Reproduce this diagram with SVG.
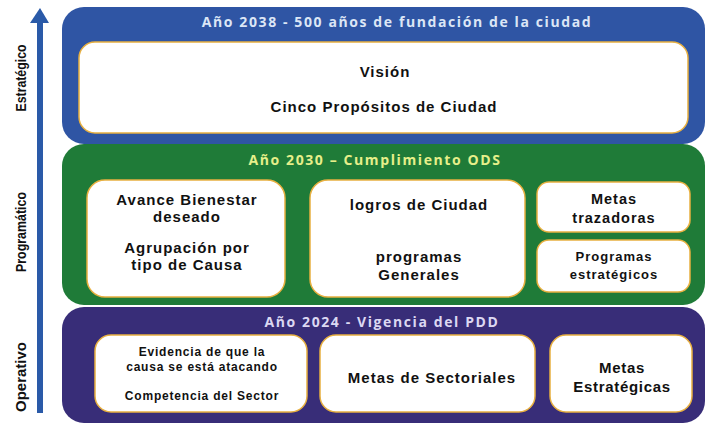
<svg xmlns="http://www.w3.org/2000/svg" width="708" height="425" viewBox="0 0 708 425">
<style>
.t{font-family:"Liberation Sans",Arial,sans-serif;font-weight:bold;fill:#111;text-anchor:middle;font-size:15px;letter-spacing:1px}
.h{font-family:"Open Sans","Liberation Sans",sans-serif;font-weight:bold;font-size:14px;letter-spacing:1.6px;text-anchor:middle}
.side{font-family:"Liberation Sans",sans-serif;font-weight:bold;font-size:15px;fill:#111;text-anchor:middle}
.box{fill:#fff;stroke:#e8b040;stroke-width:1.5}
</style>
<rect width="708" height="425" fill="#fff"/>
<g id="axis">
<rect x="37" y="20" width="6" height="393" fill="#2a5aa8"/>
<polygon points="40,8 30,23 49,23" fill="#2a5aa8"/>
<text class="side" transform="translate(26,78) rotate(-90)" textLength="67" lengthAdjust="spacingAndGlyphs">Estratégico</text>
<text class="side" transform="translate(26,232) rotate(-90)" textLength="80" lengthAdjust="spacingAndGlyphs">Programático</text>
<text class="side" transform="translate(26,377) rotate(-90)" textLength="70" lengthAdjust="spacingAndGlyphs">Operativo</text>
</g>
<g id="estrategico">
<rect x="62" y="7" width="643" height="137" rx="22" fill="#2f55a4"/>
<text class="h" x="397" y="27" fill="#dce6f6">Año 2038 - 500 años de fundación de la ciudad</text>
<rect class="box" x="79" y="42" width="609" height="91" rx="16"/>
<text class="t" x="385" y="77">Visión</text>
<text class="t" x="384" y="112">Cinco Propósitos de Ciudad</text>
</g>
<g id="programatico">
<rect x="62" y="144" width="643" height="161" rx="22" fill="#1f7b38"/>
<text class="h" x="375" y="165" fill="#e6ef8a">Año 2030 – Cumplimiento ODS</text>
<g id="avance">
<rect class="box" x="87" y="180" width="198" height="117" rx="18"/>
<text class="t" x="187" y="205">Avance Bienestar</text>
<text class="t" x="187" y="222">deseado</text>
<text class="t" x="187" y="253">Agrupación por</text>
<text class="t" x="187" y="270">tipo de Causa</text>
</g>
<g id="logros">
<rect class="box" x="310" y="180" width="215" height="117" rx="18"/>
<text class="t" x="419" y="210">logros de Ciudad</text>
<text class="t" x="419" y="262">programas</text>
<text class="t" x="419" y="280">Generales</text>
</g>
<g id="trazadoras">
<rect class="box" x="537" y="182" width="153" height="50" rx="12"/>
<text class="t" x="614" y="204" style="font-size:14.5px">Metas</text>
<text class="t" x="614" y="223" style="font-size:14.5px">trazadoras</text>
</g>
<g id="programas-estrategicos">
<rect class="box" x="537" y="240" width="153" height="52" rx="12"/>
<text class="t" x="614" y="261" style="font-size:13px">Programas</text>
<text class="t" x="614" y="279" style="font-size:13px">estratégicos</text>
</g>
</g>
<g id="operativo">
<rect x="62" y="307" width="643" height="116" rx="22" fill="#382d78"/>
<text class="h" x="382" y="327" fill="#dcd8f2">Año 2024 - Vigencia del PDD</text>
<g id="evidencia">
<rect class="box" x="95" y="335" width="212" height="77" rx="16"/>
<text class="t" x="202" y="356" style="font-size:12px;letter-spacing:0.8px">Evidencia de que la</text>
<text class="t" x="202" y="371" style="font-size:12px;letter-spacing:0.8px">causa se está atacando</text>
<text class="t" x="202" y="400" style="font-size:12px;letter-spacing:0.8px">Competencia del Sector</text>
</g>
<g id="sectoriales">
<rect class="box" x="320" y="335" width="215" height="77" rx="16"/>
<text class="t" x="432" y="383">Metas de Sectoriales</text>
</g>
<g id="metas-estrategicas">
<rect class="box" x="550" y="335" width="142" height="77" rx="16"/>
<text class="t" x="622" y="373" style="letter-spacing:0.7px">Metas</text>
<text class="t" x="622" y="392" style="letter-spacing:0.7px">Estratégicas</text>
</g>
</g>
</svg>
